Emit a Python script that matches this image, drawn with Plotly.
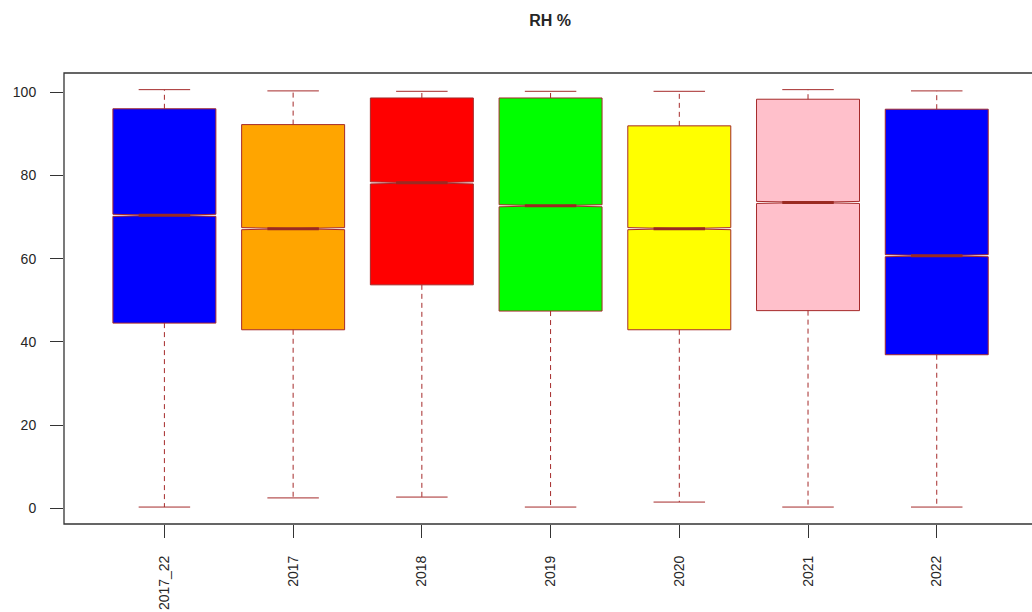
import plotly.graph_objects as go

# Summary statistics of relative humidity (%) per period
categories = ["2017_22", "2017", "2018", "2019", "2020", "2021", "2022"]
lower_whisker = [0.3, 2.5, 2.7, 0.3, 1.5, 0.3, 0.3]
q1 = [44.5, 42.9, 53.7, 47.4, 42.9, 47.5, 36.9]
median = [70.4, 67.2, 78.2, 72.7, 67.2, 73.5, 60.7]
q3 = [96.0, 92.2, 98.6, 98.6, 91.9, 98.3, 95.9]
upper_whisker = [100.6, 100.3, 100.2, 100.2, 100.2, 100.6, 100.3]
notch_span = [0.25, 0.25, 0.25, 0.25, 0.25, 0.25, 0.25]
fill_colors = ["#0000FF", "#FFA500", "#FF0000", "#00FF00", "#FFFF00", "#FFC0CB", "#0000FF"]

BORDER = "#A52A2A"
BOX_W = 0.8
FONT = "Liberation Sans, Arial, sans-serif"

fig = go.Figure()
positions = list(range(1, len(categories) + 1))

for i, pos in enumerate(positions):
    fig.add_trace(go.Box(
        x=[pos],
        q1=[q1[i]], median=[median[i]], q3=[q3[i]],
        lowerfence=[q1[i]], upperfence=[q3[i]],
        notched=True, notchspan=[notch_span[i]], notchwidth=0.5,
        width=BOX_W,
        fillcolor=fill_colors[i],
        line=dict(color=BORDER, width=1),
        whiskerwidth=0,
        boxpoints=False,
        hoverinfo="skip",
        showlegend=False,
    ))

# dashed whiskers
wx, wy = [], []
for i, pos in enumerate(positions):
    wx += [pos, pos, None, pos, pos, None]
    wy += [q3[i], upper_whisker[i], None, q1[i], lower_whisker[i], None]
fig.add_trace(go.Scatter(x=wx, y=wy, mode="lines",
                         line=dict(color=BORDER, width=1, dash="5px,4px"),
                         hoverinfo="skip", showlegend=False))

# whisker caps (half of box width)
cx, cy = [], []
for i, pos in enumerate(positions):
    half = BOX_W / 4
    cx += [pos - half, pos + half, None, pos - half, pos + half, None]
    cy += [upper_whisker[i], upper_whisker[i], None, lower_whisker[i], lower_whisker[i], None]
fig.add_trace(go.Scatter(x=cx, y=cy, mode="lines",
                         line=dict(color=BORDER, width=1),
                         hoverinfo="skip", showlegend=False))

# thick median segments inside the notch
mx, my = [], []
for i, pos in enumerate(positions):
    half = BOX_W / 4
    mx += [pos - half, pos + half, None]
    my += [median[i], median[i], None]
fig.add_trace(go.Scatter(x=mx, y=my, mode="lines",
                         line=dict(color="#9A2A22", width=3),
                         hoverinfo="skip", showlegend=False))

fig.update_layout(
    width=1032, height=612,
    margin=dict(l=64, r=0, t=73, b=88),
    paper_bgcolor="white", plot_bgcolor="white",
    font=dict(family=FONT, size=14, color="#262626"),
    title=dict(text="<b>RH %</b>", x=0.533, xanchor="center", y=0.967, yanchor="middle",
               font=dict(family=FONT, size=16, color="#262626")),
    xaxis=dict(
        range=[0.22, 7.74],
        tickmode="array", tickvals=positions, ticktext=categories,
        tickangle=-90, ticks="outside", ticklen=13, tickwidth=1.3, tickcolor="#333333",
        ticklabelstandoff=12,
        showgrid=False, zeroline=False, showline=False,
    ),
    yaxis=dict(
        range=[-3.77, 104.6],
        tickmode="array", tickvals=[0, 20, 40, 60, 80, 100],
        ticks="outside", ticklen=13, tickwidth=1.3, tickcolor="#333333",
        ticklabelstandoff=11,
        showgrid=False, zeroline=False, showline=False,
    ),
    shapes=[dict(type="rect", xref="paper", yref="paper", x0=0, x1=1.02, y0=0, y1=1,
                 line=dict(color="#333333", width=1.3), fillcolor="rgba(0,0,0,0)", layer="above")],
)

fig.write_html("out.html")
